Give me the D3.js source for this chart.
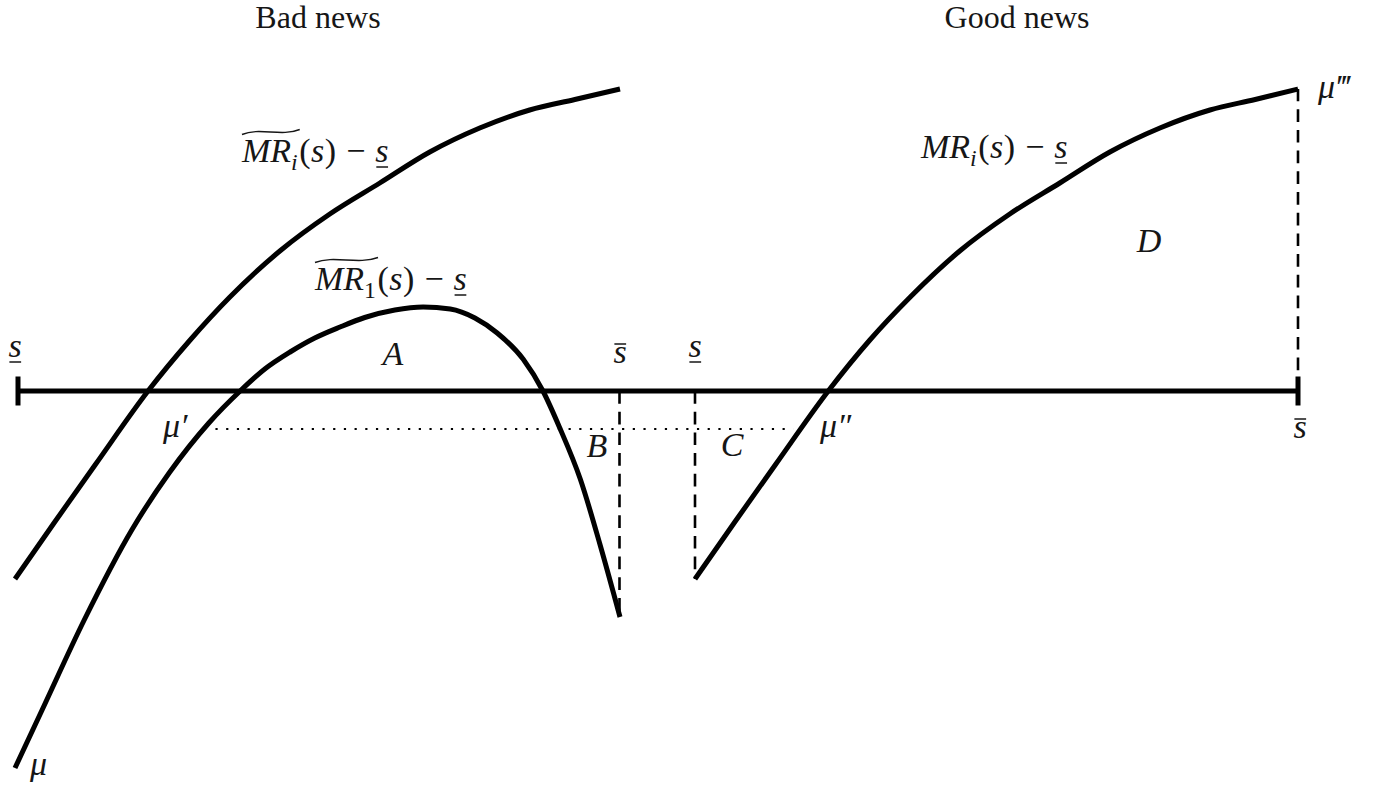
<!DOCTYPE html>
<html>
<head>
<meta charset="utf-8">
<script src="https://cdn.jsdelivr.net/npm/d3@7"></script>
<style>
  body { margin: 0; background: #fff; }
  svg { display: block; }
  text { font-family: "Liberation Serif", "DejaVu Serif", serif; fill: #161616; }
</style>
</head>
<body>
<svg id="chart" width="1387" height="785"></svg>
<script>
// ---------------- data ----------------
const panelTitles = ["Bad news", "Good news"];

// Bad news panel: tilde MR_i(s) - s_
const mrTildeIX = [-0.005, 0.061, 0.128, 0.216, 0.286, 0.352, 0.435, 0.518, 0.601, 0.684, 0.767, 0.850, 0.925, 1.0];
const mrTildeIY = [-1.88, -1.31, -0.74, 0.0, 0.51, 0.94, 1.40, 1.77, 2.08, 2.39, 2.63, 2.81, 2.915, 3.02];

// Bad news panel: tilde MR_1(s) - s_
const mrTilde1X = [-0.005, 0.040, 0.110, 0.189, 0.251, 0.317, 0.369, 0.410, 0.452, 0.493, 0.535, 0.576, 0.626, 0.673, 0.718, 0.759, 0.796, 0.839, 0.872, 0.900, 0.934, 0.967, 1.0];
const mrTilde1Y = [-3.77, -3.19, -2.29, -1.39, -0.82, -0.32, 0.0, 0.22, 0.39, 0.53, 0.64, 0.735, 0.81, 0.84, 0.82, 0.73, 0.58, 0.32, 0.0, -0.37, -0.88, -1.54, -2.26];

// Good news panel: MR_i(s) - s_
const mrIX = [0.0, 0.066, 0.133, 0.221, 0.290, 0.357, 0.439, 0.522, 0.605, 0.688, 0.771, 0.854, 0.929, 1.0];
const mrIY = [-1.88, -1.31, -0.74, 0.0, 0.51, 0.94, 1.40, 1.77, 2.08, 2.39, 2.63, 2.81, 2.915, 3.02];

// reference levels
const muPrimeLevel = -0.38;          // dotted line level (mu' ... mu'')
const muPrimeBadX = 0.328;           // start of dotted line (bad panel)
const muPrimeGoodX = 0.163;          // end of dotted line (good panel)
const badEndValue = -2.22;           // dashed drop at s-bar (bad panel)
const goodStartValue = -1.88;        // MR_i at s_
const goodEndValue = 3.02;           // MR_i at s-bar (mu''')

// ---------------- scales ----------------
const svg = d3.select("#chart");
const xBad = d3.scaleLinear().domain([0, 1]).range([18, 620]);
const xGood = d3.scaleLinear().domain([0, 1]).range([695, 1298]);
const y = d3.scaleLinear().domain([-4, 3.2]).range([791, 71]);

const ink = "#000";

// ---------------- axis ----------------
svg.append("line")
  .attr("x1", xBad(0)).attr("x2", xGood(1))
  .attr("y1", y(0)).attr("y2", y(0))
  .attr("stroke", ink).attr("stroke-width", 5);
[xBad(0), xGood(1)].forEach(px => {
  svg.append("line")
    .attr("x1", px).attr("x2", px)
    .attr("y1", y(0.145)).attr("y2", y(-0.145))
    .attr("stroke", ink).attr("stroke-width", 5);
});

// ---------------- dashed / dotted guides ----------------
function dashed(px, v0, v1) {
  svg.append("line")
    .attr("x1", px).attr("x2", px)
    .attr("y1", y(v0)).attr("y2", y(v1))
    .attr("stroke", ink).attr("stroke-width", 2.6)
    .attr("stroke-dasharray", "12.7 8");
}
dashed(xBad(1) - 0.5, 0, badEndValue);
dashed(xGood(0), 0, goodStartValue);
dashed(xGood(1), 0, goodEndValue);

svg.append("line")
  .attr("x1", xBad(muPrimeBadX)).attr("x2", xGood(muPrimeGoodX))
  .attr("y1", y(muPrimeLevel)).attr("y2", y(muPrimeLevel))
  .attr("stroke", ink).attr("stroke-width", 2.2)
  .attr("stroke-dasharray", "2.2 8.5");

// ---------------- curves ----------------
function curve(xs, ys, xScale) {
  const pts = xs.map((v, i) => [v, ys[i]]);
  const line = d3.line()
    .x(d => xScale(d[0])).y(d => y(d[1]))
    .curve(d3.curveMonotoneX);
  svg.append("path")
    .attr("d", line(pts))
    .attr("fill", "none").attr("stroke", ink)
    .attr("stroke-width", 5).attr("stroke-linejoin", "round");
}
curve(mrTildeIX, mrTildeIY, xBad);
curve(mrTilde1X, mrTilde1Y, xBad);
curve(mrIX, mrIY, xGood);

// ---------------- text helpers ----------------
const FS = 34;
function label(x, yy, parts, anchor, fs) {
  const size = fs || FS;
  const t = svg.append("text")
    .attr("x", x).attr("y", yy)
    .attr("font-size", size)
    .attr("text-anchor", anchor || "start");
  let curDy = 0;
  const nodes = [];
  parts.forEach(p => {
    const ts = t.append("tspan").text(p.t);
    if (p.i) ts.attr("font-style", "italic");
    const target = p.sub ? 8 : 0;
    if (target !== curDy) { ts.attr("dy", target - curDy); curDy = target; }
    if (p.sub) ts.attr("font-size", size * 0.7);
    if (p.dx) ts.attr("dx", p.dx);
    nodes.push({ p, node: ts.node() });
  });
  const tildeNodes = nodes.filter(n => n.p.tilde);
  if (tildeNodes.length) {
    const x0 = tildeNodes[0].node.getStartPositionOfChar(0).x;
    const last = tildeNodes[tildeNodes.length - 1].node;
    const x1 = last.getEndPositionOfChar(last.getNumberOfChars() - 1).x + 2;
    const w = x1 - x0, ty = yy - 30;
    svg.append("path")
      .attr("d", `M${x0},${ty + 2.5} C${x0 + w * 0.3},${ty - 5} ${x0 + w * 0.68},${ty + 5} ${x1},${ty - 2.5}`)
      .attr("fill", "none").attr("stroke", "#161616").attr("stroke-width", 1.4);
  }
  nodes.forEach(n => {
    if (n.p.under || n.p.over) {
      const a = n.node.getStartPositionOfChar(0).x;
      const b = n.node.getEndPositionOfChar(n.node.getNumberOfChars() - 1).x;
      const ly = n.p.under ? yy + 5 : yy - 19;
      svg.append("line")
        .attr("x1", a + 1).attr("x2", b - 0.5)
        .attr("y1", ly).attr("y2", ly)
        .attr("stroke", "#161616").attr("stroke-width", 1.5);
    }
  });
  return t;
}

// panel titles
svg.append("text").attr("x", 318).attr("y", 28).attr("font-size", 32)
  .attr("text-anchor", "middle").text(panelTitles[0]);
svg.append("text").attr("x", 1017).attr("y", 28).attr("font-size", 32)
  .attr("text-anchor", "middle").text(panelTitles[1]);

// curve labels
const exprTail = [
  { t: "(", dx: 1.5 }, { t: "s", i: true, dx: 0.5 }, { t: ")", dx: 0.5 },
  { t: "−", dx: 10 }, { t: "s", i: true, under: true, dx: 10 }
];
label(242, 162, [
  { t: "M", i: true, tilde: true }, { t: "R", i: true, tilde: true },
  { t: "i", i: true, sub: true, tilde: true }
].concat(exprTail));
label(315, 290, [
  { t: "M", i: true, tilde: true }, { t: "R", i: true, tilde: true },
  { t: "1", sub: true, tilde: true }
].concat(exprTail));
label(921, 158, [
  { t: "M", i: true }, { t: "R", i: true },
  { t: "i", i: true, sub: true }
].concat(exprTail));

// area letters
label(393, 365, [{ t: "A", i: true }], "middle");
label(597, 457, [{ t: "B", i: true }], "middle");
label(732, 456, [{ t: "C", i: true }], "middle");
label(1149, 252, [{ t: "D", i: true }], "middle");

// mu labels
label(163, 437, [{ t: "μ′", i: true }]);
label(820, 437, [{ t: "μ″", i: true }]);
label(1318, 98, [{ t: "μ‴", i: true }]);
label(30, 775, [{ t: "μ", i: true }]);

// axis end labels
label(15, 357, [{ t: "s", i: true, under: true }], "middle");
label(620, 363, [{ t: "s", i: true, over: true }], "middle");
label(695, 357, [{ t: "s", i: true, under: true }], "middle");
label(1300, 438, [{ t: "s", i: true, over: true }], "middle");
</script>
</body>
</html>
